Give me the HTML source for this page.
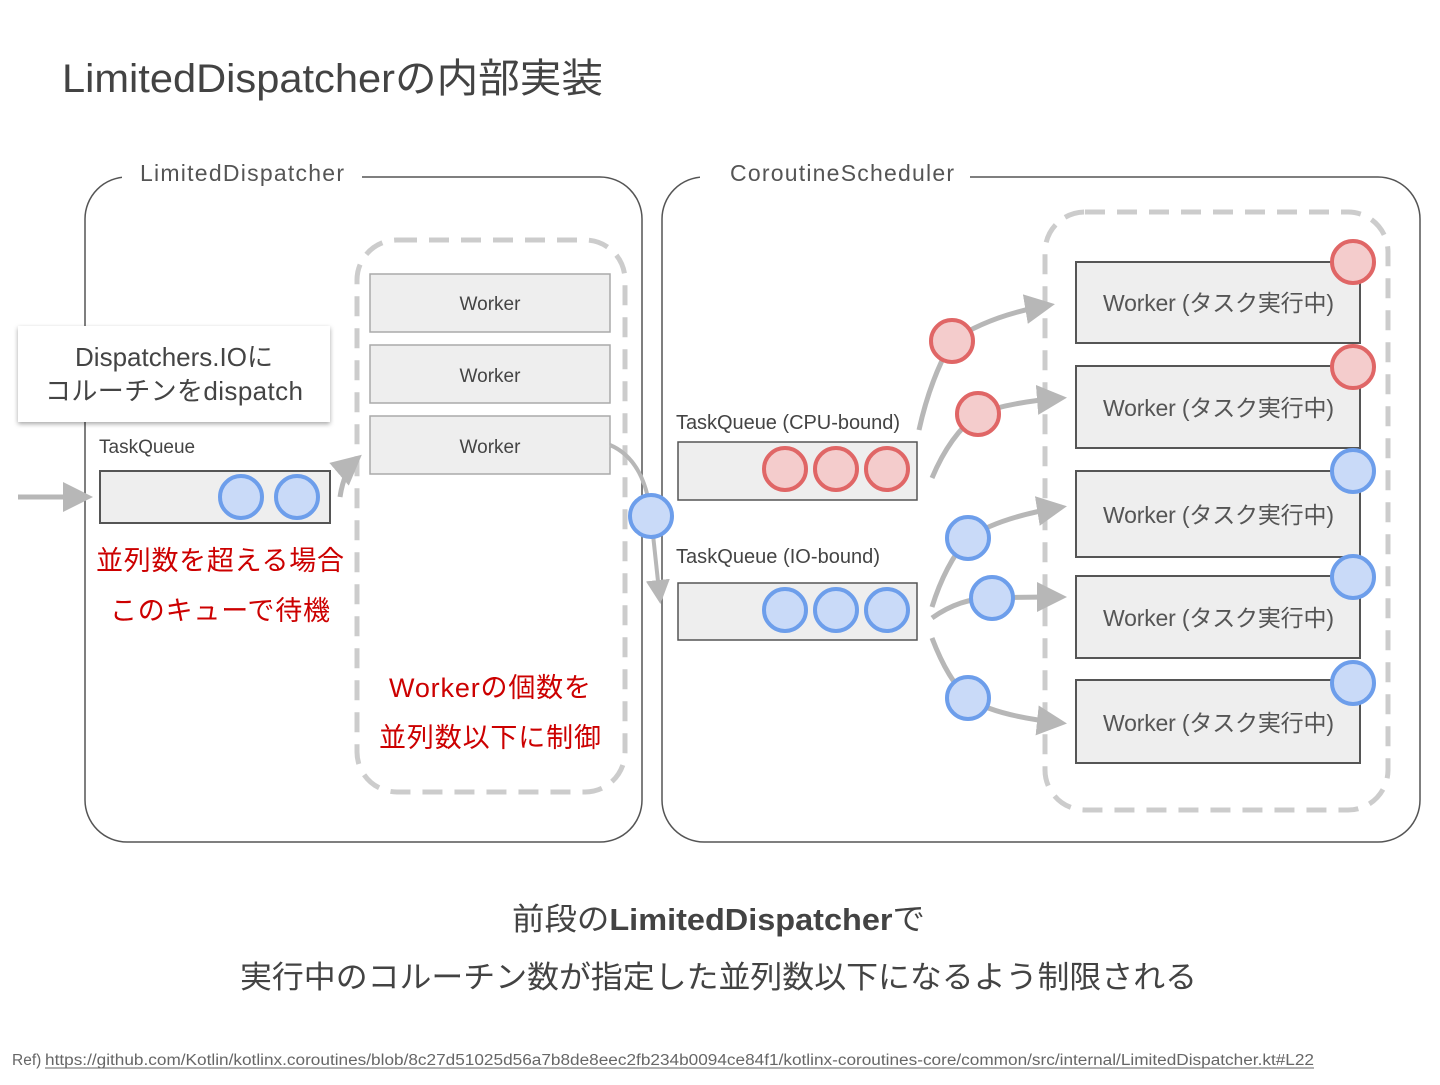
<!DOCTYPE html>
<html><head><meta charset="utf-8"><style>
body{margin:0;background:#fff;}
svg text{font-family:"Liberation Sans","Noto Sans CJK JP",sans-serif;}
</style></head><body>
<svg width="1440" height="1080" viewBox="0 0 1440 1080" xmlns="http://www.w3.org/2000/svg">
<defs>
<marker id="ah" markerWidth="6" markerHeight="6" refX="5" refY="3" orient="auto" markerUnits="strokeWidth"><path d="M0,0 L6,3 L0,6 z" fill="#b7b7b7"/></marker>
<filter id="sh" x="-10%" y="-10%" width="120%" height="130%"><feDropShadow dx="0" dy="2" stdDeviation="2.5" flood-color="#000" flood-opacity="0.35"/></filter>
</defs>
<text x="62" y="92" font-size="40" fill="#434343" textLength="541" lengthAdjust="spacingAndGlyphs">LimitedDispatcherの内部実装</text>

<!-- containers -->
<rect x="85" y="177" width="557" height="665" rx="42" fill="none" stroke="#555" stroke-width="1.5"/>
<rect x="122" y="165" width="240" height="25" fill="#fff"/>
<text x="140" y="181" font-size="23" fill="#555" textLength="204">LimitedDispatcher</text>
<rect x="700" y="165" width="270" height="25" fill="#fff"/>
<rect x="662" y="177" width="758" height="665" rx="42" fill="none" stroke="#555" stroke-width="1.5"/>
<rect x="700" y="165" width="270" height="25" fill="#fff"/>
<text x="730" y="181" font-size="23" fill="#555" textLength="224">CoroutineScheduler</text>

<!-- left dashed -->
<rect x="357" y="240" width="268" height="552" rx="40" fill="none" stroke="#ccc" stroke-width="5" stroke-dasharray="20 12"/>
<g font-size="19" fill="#444" text-anchor="middle">
<rect x="370" y="274" width="240" height="58" fill="#eee" stroke="#aaa" stroke-width="1.5"/><text x="490" y="310">Worker</text>
<rect x="370" y="345" width="240" height="58" fill="#eee" stroke="#aaa" stroke-width="1.5"/><text x="490" y="382">Worker</text>
<rect x="370" y="416" width="240" height="58" fill="#eee" stroke="#aaa" stroke-width="1.5"/><text x="490" y="453">Worker</text>
</g>

<!-- callout -->
<rect x="18" y="326" width="312" height="96" fill="#fff" filter="url(#sh)"/>
<text x="174" y="366" font-size="26" fill="#444" text-anchor="middle">Dispatchers.IOに</text>
<text x="174" y="400" font-size="26" fill="#444" text-anchor="middle" textLength="258">コルーチンをdispatch</text>

<text x="99" y="453" font-size="19" fill="#444">TaskQueue</text>
<rect x="100" y="471" width="230" height="52" fill="#eee" stroke="#555" stroke-width="2"/>
<g fill="#c9daf8" stroke="#6d9eeb" stroke-width="4">
<circle cx="241" cy="497" r="21"/><circle cx="297" cy="497" r="21"/>
</g>
<line x1="18" y1="497" x2="88" y2="497" stroke="#b7b7b7" stroke-width="5" marker-end="url(#ah)"/>
<path d="M340,497 Q344,470 358,458" fill="none" stroke="#b7b7b7" stroke-width="5" marker-end="url(#ah)"/>

<g font-size="27" fill="#cc0000" text-anchor="middle">
<text x="220" y="570" textLength="248">並列数を超える場合</text>
<text x="220" y="620" textLength="220">このキューで待機</text>
<text x="490" y="697" textLength="202">Workerの個数を</text>
<text x="490" y="747" textLength="222">並列数以下に制御</text>
</g>

<path d="M610,445 Q645,460 651,516 L660,600" fill="none" stroke="#b7b7b7" stroke-width="4" marker-end="url(#ah)"/>
<circle cx="651" cy="516" r="21" fill="#c9daf8" stroke="#6d9eeb" stroke-width="4"/>

<!-- right -->
<rect x="1045" y="212" width="343" height="598" rx="40" fill="none" stroke="#ccc" stroke-width="5" stroke-dasharray="20 12"/>
<g font-size="23" fill="#555">
<rect x="1076" y="262" width="284" height="81" fill="#eee" stroke="#555" stroke-width="2"/><text x="1103" y="311" textLength="231">Worker (タスク実行中)</text>
<rect x="1076" y="366" width="284" height="82" fill="#eee" stroke="#555" stroke-width="2"/><text x="1103" y="416" textLength="231">Worker (タスク実行中)</text>
<rect x="1076" y="471" width="284" height="86" fill="#eee" stroke="#555" stroke-width="2"/><text x="1103" y="523" textLength="231">Worker (タスク実行中)</text>
<rect x="1076" y="576" width="284" height="82" fill="#eee" stroke="#555" stroke-width="2"/><text x="1103" y="626" textLength="231">Worker (タスク実行中)</text>
<rect x="1076" y="680" width="284" height="83" fill="#eee" stroke="#555" stroke-width="2"/><text x="1103" y="731" textLength="231">Worker (タスク実行中)</text>
</g>

<text x="676" y="429" font-size="20" fill="#444" textLength="224">TaskQueue (CPU-bound)</text>
<rect x="678" y="442" width="239" height="58" fill="#eee" stroke="#555" stroke-width="1.5"/>
<text x="676" y="563" font-size="20" fill="#444" textLength="204">TaskQueue (IO-bound)</text>
<rect x="678" y="583" width="239" height="57" fill="#eee" stroke="#555" stroke-width="1.5"/>

<!-- connectors -->
<g fill="none" stroke="#b7b7b7" stroke-width="5">
<path d="M919,430 Q930,380 952,341 Q990,315 1050,305" marker-end="url(#ah)"/>
<path d="M932,478 Q950,435 978,414 Q1010,402 1062,398" marker-end="url(#ah)"/>
<path d="M932,607 Q945,565 968,538 Q1000,517 1062,507" marker-end="url(#ah)"/>
<path d="M932,618 Q960,598 992,598 Q1020,597 1062,597" marker-end="url(#ah)"/>
<path d="M932,638 Q948,680 968,698 Q995,716 1062,723" marker-end="url(#ah)"/>
</g>

<g fill="#f4cccc" stroke="#e06666" stroke-width="4">
<circle cx="785" cy="469" r="21"/><circle cx="836" cy="469" r="21"/><circle cx="887" cy="469" r="21"/>
<circle cx="952" cy="341" r="21"/><circle cx="978" cy="414" r="21"/>
<circle cx="1353" cy="262" r="21"/><circle cx="1353" cy="367" r="21"/>
</g>
<g fill="#c9daf8" stroke="#6d9eeb" stroke-width="4">
<circle cx="785" cy="610" r="21"/><circle cx="836" cy="610" r="21"/><circle cx="887" cy="610" r="21"/>
<circle cx="968" cy="538" r="21"/><circle cx="992" cy="598" r="21"/><circle cx="968" cy="698" r="21"/>
<circle cx="1353" cy="471" r="21"/><circle cx="1353" cy="577" r="21"/><circle cx="1353" cy="683" r="21"/>
</g>

<text x="512" y="930" font-size="31" fill="#434343" textLength="413" lengthAdjust="spacingAndGlyphs">前段の<tspan font-weight="bold">LimitedDispatcher</tspan>で</text>
<text x="240" y="988" font-size="31" fill="#434343" textLength="957" lengthAdjust="spacingAndGlyphs">実行中のコルーチン数が指定した並列数以下になるよう制限される</text>
<text x="12" y="1065" font-size="15.5" fill="#666">Ref)</text>
<text x="45" y="1065" font-size="15.5" fill="#666" textLength="1269" lengthAdjust="spacingAndGlyphs">https://github.com/Kotlin/kotlinx.coroutines/blob/8c27d51025d56a7b8de8eec2fb234b0094ce84f1/kotlinx-coroutines-core/common/src/internal/LimitedDispatcher.kt#L22</text>
<line x1="45" y1="1068" x2="1314" y2="1068" stroke="#666" stroke-width="1"/>
</svg>
</body></html>
